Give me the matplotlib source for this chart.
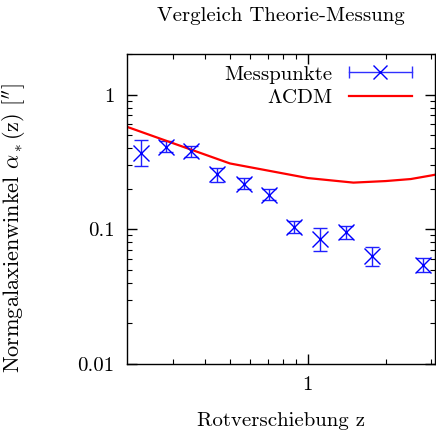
import numpy as np
import matplotlib
matplotlib.use('Agg')
from matplotlib import pyplot as plt
from matplotlib.lines import Line2D
from matplotlib.legend_handler import HandlerBase
from matplotlib.ticker import LogLocator, FixedLocator, FixedFormatter, NullFormatter

#####data#####
z_mess = [0.226, 0.284, 0.355, 0.445, 0.564, 0.71, 0.881, 1.11, 1.40, 1.77, 2.78]
alpha_mess = [0.371, 0.411, 0.382, 0.256, 0.218, 0.181, 0.104, 0.0847, 0.0955, 0.0629, 0.0545]
alpha_hi = [0.461, 0.455, 0.416, 0.287, 0.239, 0.198, 0.115, 0.102, 0.106, 0.0738, 0.061]
alpha_lo = [0.295, 0.376, 0.345, 0.226, 0.198, 0.165, 0.094, 0.0694, 0.0852, 0.0530, 0.048]

z_lcdm = [0.2, 0.5, 1.0, 1.5, 2.0, 2.5, 3.0, 3.1]
alpha_lcdm = [0.576, 0.308, 0.240, 0.222, 0.228, 0.236, 0.251, 0.254]

#####style#####
plt.rcParams['font.family'] = 'serif'
plt.rcParams['font.serif'] = ['cmr10']
plt.rcParams['mathtext.fontset'] = 'cm'
plt.rcParams['axes.formatter.use_mathtext'] = True
fs = 15


class HandlerBar(HandlerBase):
    # gnuplot style key: horizontal bar with caps and marker in the middle
    def create_artists(self, legend, orig_handle, xdescent, ydescent,
                       width, height, fontsize, trans):
        y = (height - ydescent) / 2
        x0 = -xdescent
        x1 = -xdescent + width
        bar = Line2D([x0, x1], [y, y], color='#3030ff', lw=1.0,
                     marker='|', markersize=8, markeredgewidth=1.0)
        mark = Line2D([(x0 + x1) / 2], [y], color='#0000ff', marker='x',
                      markersize=10, markeredgewidth=1.0, linestyle='none')
        bar.set_transform(trans)
        mark.set_transform(trans)
        return [bar, mark]


fig = plt.figure(figsize=(4.36, 4.34), dpi=100)
ax = fig.add_axes([127 / 436, 1 - 364 / 434, 308 / 436, 310 / 434])

yerr = [np.array(alpha_mess) - np.array(alpha_lo), np.array(alpha_hi) - np.array(alpha_mess)]
eb = ax.errorbar(z_mess, alpha_mess, yerr=yerr, fmt='x', color='#0000ff',
                 ecolor='#2020ff', elinewidth=1.0, capsize=5, capthick=1.0,
                 markersize=11, markeredgewidth=1.0, label='Messpunkte')
ln, = ax.plot(z_lcdm, alpha_lcdm, '-', color='#ff0000', lw=1.6, label=r'$\Lambda$CDM')

ax.set_xscale('log')
ax.set_yscale('log')
ax.set_xlim(0.2, 3.1)
ax.set_ylim(0.01, 2)

ax.xaxis.set_major_locator(FixedLocator([1]))
ax.xaxis.set_major_formatter(FixedFormatter(['1']))
ax.xaxis.set_minor_locator(FixedLocator([0.3, 0.4, 0.5, 0.6, 0.7, 0.8, 0.9, 2, 3]))
ax.xaxis.set_minor_formatter(NullFormatter())
ax.yaxis.set_major_locator(FixedLocator([0.01, 0.1, 1]))
ax.yaxis.set_major_formatter(FixedFormatter(['0.01', '0.1', '1']))
ax.yaxis.set_minor_locator(LogLocator(base=10, subs=np.arange(2, 10)))
ax.yaxis.set_minor_formatter(NullFormatter())

ax.tick_params(which='both', direction='in', top=True, right=True, labelsize=fs)
ax.tick_params(which='major', length=7, width=1.0, pad=9)
ax.tick_params(which='minor', length=3.5, width=0.8)
for s in ax.spines.values():
    s.set_linewidth(1.0)

ax.set_title('Vergleich Theorie-Messung', fontsize=fs, pad=24)
ax.set_xlabel('Rotverschiebung z', fontsize=fs, labelpad=13)
ax.set_ylabel(r'Normgalaxienwinkel $\alpha_*$(z) [$^{\prime\prime}$]', fontsize=fs + 1)
ax.yaxis.set_label_coords(-0.322, 0.44)

ax.legend([eb, ln], ['Messpunkte', r'$\Lambda$CDM'], handler_map={type(eb): HandlerBar()},
          loc='upper right', bbox_to_anchor=(0.985, 1.025), frameon=False, markerfirst=False,
          fontsize=fs, handlelength=3.0, labelspacing=0.25, handletextpad=0.8)

plt.savefig('out.png', dpi=100)
